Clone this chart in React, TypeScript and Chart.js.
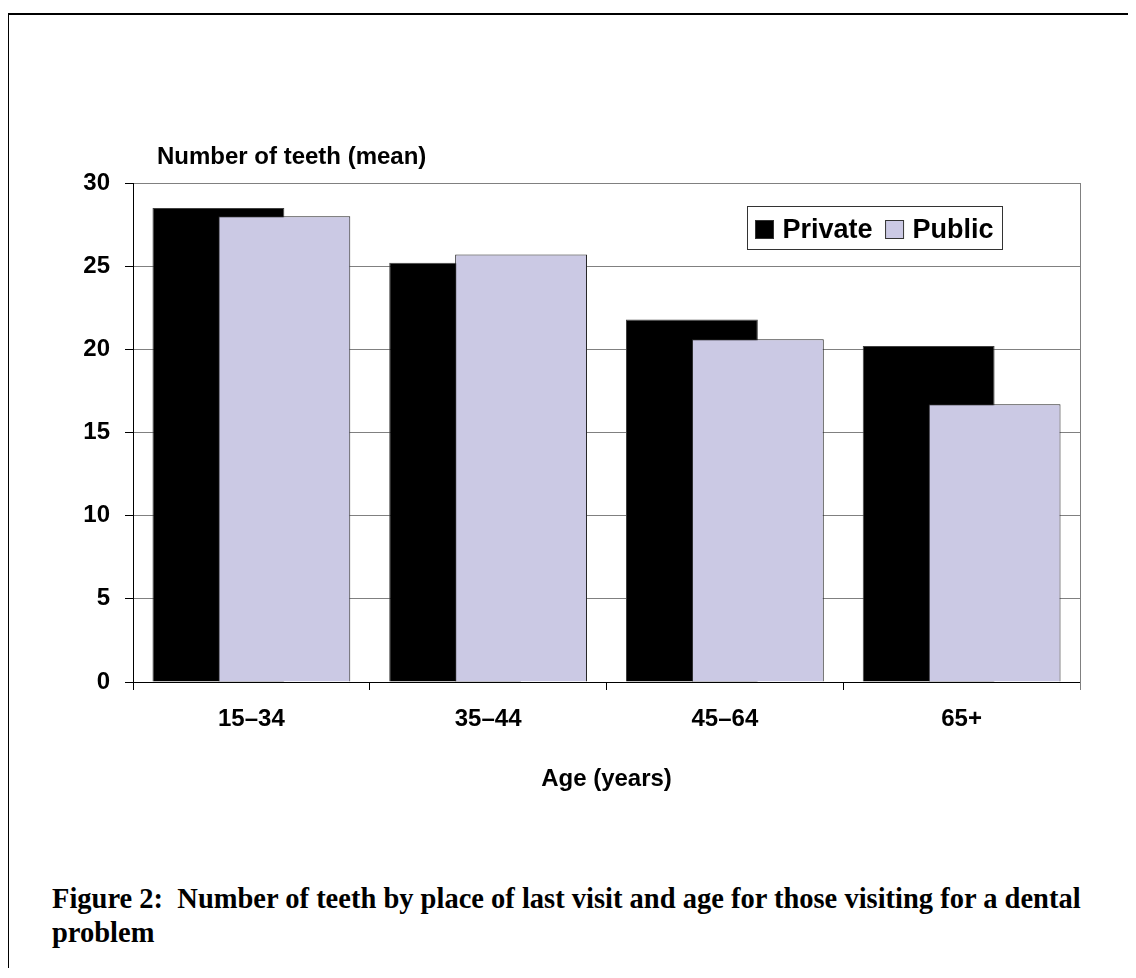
import React, { useEffect, useRef } from 'react';
import { Chart, registerables } from 'chart.js';

Chart.register(...registerables);

const categories = ['15–34', '35–44', '45–64', '65+'];
const privateValues = [28.5, 25.2, 21.8, 20.2];
const publicValues = [28.0, 25.7, 20.6, 16.7];
const seriesNames = ['Private', 'Public'];
const yMin = 0;
const yMax = 30;
const yStep = 5;
const yAxisTitle = 'Number of teeth (mean)';
const xAxisTitle = 'Age (years)';
const captionLine1 = 'Figure 2:\u00a0\u00a0Number of teeth by place of last visit and age for those visiting for a dental';
const captionLine2 = 'problem';

const SANS = '"Liberation Sans", Arial, sans-serif';
const PRIVATE_COLOR = '#000000';
const PUBLIC_COLOR = '#CBC9E4';

// Draw datasets first-to-last so the second series overlaps the first (Excel-style overlap)
const drawOrder = {
  id: 'drawOrder',
  beforeDatasetsDraw(chart: any) {
    const metas = chart.getSortedVisibleDatasetMetas();
    metas.forEach((m: any) => m.controller.draw());
    return false;
  },
};

const boxLegend = {
  id: 'boxLegend',
  afterDraw(chart: any) {
    const { ctx, chartArea } = chart;
    ctx.save();
    ctx.font = `bold 27px ${SANS}`;
    const sq = 18;
    const padL = 8;
    const padR = 9;
    const sqToText = 27;
    const itemGap = 13;
    const items = chart.data.datasets.map((ds: any) => ({
      label: ds.label,
      fill: ds.backgroundColor,
      w: ctx.measureText(ds.label).width,
    }));
    let total = padL;
    items.forEach((it: any, i: number) => {
      total += sqToText + it.w + (i < items.length - 1 ? itemGap : 0);
    });
    total += padR;
    total = Math.round(total);
    const h = 43;
    const x0 = Math.round(chartArea.right - 78 - total) + 0.5;
    const y0 = Math.round(chartArea.top + 23) + 0.5;
    ctx.fillStyle = '#ffffff';
    ctx.fillRect(x0, y0, total, h);
    ctx.strokeStyle = '#333333';
    ctx.lineWidth = 1;
    ctx.strokeRect(x0, y0, total, h);
    let x = x0 + padL;
    items.forEach((it: any) => {
      ctx.fillStyle = it.fill;
      ctx.fillRect(x, y0 + 14, sq, sq);
      ctx.strokeStyle = '#333333';
      ctx.strokeRect(x, y0 + 14, sq, sq);
      ctx.fillStyle = '#000';
      ctx.textBaseline = 'alphabetic';
      ctx.textAlign = 'left';
      ctx.fillText(it.label, x + sqToText, y0 + 31);
      x += sqToText + it.w + itemGap;
    });
    ctx.restore();
  },
};

const rightFrame = {
  id: 'rightFrame',
  afterDraw(chart: any) {
    const { ctx, chartArea } = chart;
    ctx.save();
    ctx.strokeStyle = '#808080';
    ctx.lineWidth = 1;
    const x = Math.round(chartArea.right) + 0.5;
    ctx.beginPath();
    ctx.moveTo(x, chartArea.top);
    ctx.lineTo(x, chartArea.bottom + 8);
    ctx.stroke();
    ctx.restore();
  },
};

export default function App() {
  const ref = useRef<HTMLCanvasElement | null>(null);

  useEffect(() => {
    document.documentElement.style.overflow = 'hidden';
    const canvas = ref.current;
    if (!canvas) return;
    Chart.defaults.font.family = SANS;
    Chart.defaults.color = '#000';
    const chart = new Chart(canvas, {
      type: 'bar',
      data: {
        labels: categories,
        datasets: [
          {
            label: seriesNames[0],
            data: privateValues,
            backgroundColor: PRIVATE_COLOR,
            borderColor: '#404040',
            borderWidth: 1,
            categoryPercentage: 0.557,
            barPercentage: 2,
          },
          {
            label: seriesNames[1],
            data: publicValues,
            backgroundColor: PUBLIC_COLOR,
            borderColor: '#222222',
            borderWidth: 1,
            categoryPercentage: 0.557,
            barPercentage: 2,
          },
        ],
      },
      options: {
        responsive: false,
        animation: false,
        devicePixelRatio: 1,
        layout: { padding: { left: 65, right: 48, top: 175, bottom: 26 } },
        plugins: {
          legend: { display: false },
          tooltip: { enabled: false },
          title: { display: false },
        },
        scales: {
          x: {
            afterFit: (s: any) => { s.height = 120; },
            grid: {
              drawOnChartArea: false,
              offset: true,
              tickLength: 8,
              tickColor: '#000',
              color: '#000',
            },
            border: { color: '#000', width: 1 },
            ticks: { font: { size: 24, weight: 'bold' }, padding: 15, color: '#000' },
            title: {
              display: true,
              text: xAxisTitle,
              font: { size: 24, weight: 'bold' },
              color: '#000',
              padding: { top: 0, bottom: 8 },
            },
          },
          y: {
            min: yMin,
            max: yMax,
            afterFit: (s: any) => { s.width = 60; },
            ticks: { stepSize: yStep, font: { size: 24, weight: 'bold' }, padding: 15, color: '#000' },
            grid: { color: '#808080', tickColor: '#000', tickLength: 8, lineWidth: 1 },
            border: { color: '#000', width: 1 },
          },
        },
      },
      plugins: [drawOrder, boxLegend, rightFrame],
    });
    return () => chart.destroy();
  }, []);

  return (
    <div style={{ position: 'relative', width: 1120, height: 960 }}>
      <div
        style={{
          position: 'absolute',
          left: -1,
          top: 5,
          width: 1127,
          height: 965,
          borderTop: '2px solid #000',
          borderLeft: '2px solid #000',
          boxSizing: 'border-box',
        }}
      />
      <canvas ref={ref} width={1120} height={820} style={{ position: 'absolute', left: 0, top: 0 }} />
      <div
        style={{
          position: 'absolute',
          left: 149,
          top: 135.7,
          font: `bold 24px ${SANS}`,
          lineHeight: '24px',
          whiteSpace: 'nowrap',
          color: '#000',
        }}
      >
        {yAxisTitle}
      </div>
      <div
        style={{
          position: 'absolute',
          left: 44,
          top: 874.4,
          font: 'bold 28.5px "Liberation Serif", "Times New Roman", serif',
          lineHeight: '34px',
          whiteSpace: 'nowrap',
          color: '#000',
        }}
      >
        {captionLine1}
        <br />
        {captionLine2}
      </div>
    </div>
  );
}
